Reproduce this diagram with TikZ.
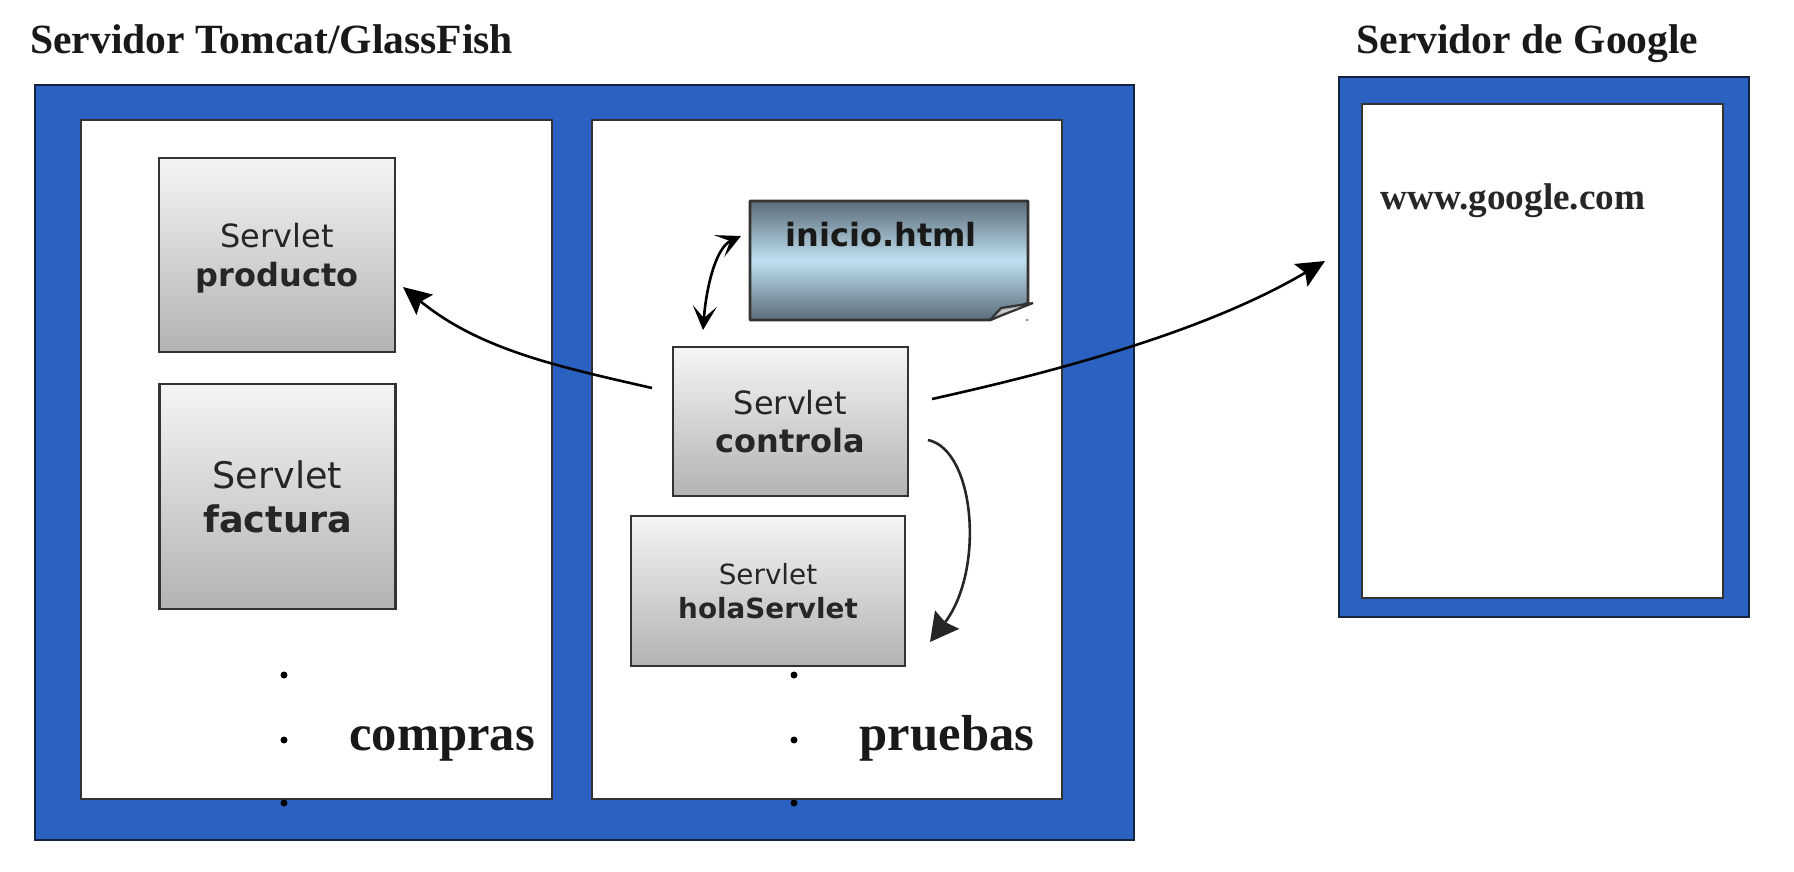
\documentclass[tikz,border=0pt]{standalone}
\usepackage{fontspec}
\setmainfont{Liberation Serif}
\newfontfamily\djv{DejaVu Sans}
\usetikzlibrary{arrows.meta}
\definecolor{panelblue}{HTML}{2B61C1}
\definecolor{edgedark}{HTML}{333333}
\definecolor{navyedge}{HTML}{14233F}
\definecolor{notedark}{HTML}{5B6B79}
\definecolor{notelight}{HTML}{BFE0F0}
\tikzset{
  outerpanel/.style={fill=panelblue,draw=navyedge,line width=1.2pt,inner sep=0pt,outer sep=0pt},
  innerpanel/.style={fill=white,draw=edgedark,line width=1.1pt,inner sep=0pt,outer sep=0pt},
  servlet/.style={top color=white!96!black,bottom color=black!30,draw=edgedark,line width=1.4pt,inner sep=0pt,outer sep=0pt,align=center,text=black!85},
  titletext/.style={font=\bfseries\fontsize{20.8}{24}\selectfont,text=black!90,inner sep=0pt,anchor=base west},
  bigtext/.style={font=\bfseries\fontsize{25.3}{30}\selectfont,text=black!90,inner sep=0pt,anchor=base},
  flow/.style={draw=black,line width=1.3pt,-{Stealth[length=14pt,width=13pt,inset=2.5pt]}},
  bothflow/.style={draw=black,line width=1.3pt,{Stealth[length=12pt,width=12pt,inset=6pt]}-{Stealth[length=12pt,width=12pt,inset=6pt]}},
  dotmark/.style={fill=black}
}
\begin{document}
\begin{tikzpicture}[x=0.5pt,y=-0.5pt]
\useasboundingbox (0,0) rectangle (1794,872);
\fill[white] (0,0) rectangle (1794,872);

\node[titletext] (t1) at (30,54) {Servidor Tomcat/GlassFish};
\node[titletext] (t2) at (1356,54) {Servidor de Google};

\node[outerpanel,minimum width=549.5pt,minimum height=377.5pt] (tomcat) at (584.5,462.5) {};
\node[innerpanel,minimum width=235.5pt,minimum height=339.5pt] (compras) at (316.5,459.5) {};
\node[innerpanel,minimum width=235pt,minimum height=339.5pt] (pruebas) at (827,459.5) {};
\node[outerpanel,minimum width=205pt,minimum height=270pt] (google) at (1544,347) {};
\node[innerpanel,minimum width=180.5pt,minimum height=247pt] (googlein) at (1542.5,351) {};

\node[servlet,minimum width=118pt,minimum height=97pt,font=\djv\fontsize{16}{19.5}\selectfont] (producto) at (277,255)
  {\rule{0pt}{15.6pt}Servlet\\\bfseries producto};
\node[servlet,minimum width=118pt,minimum height=112.5pt,font=\djv\fontsize{18.3}{22}\selectfont] (factura) at (277.5,496.5)
  {Servlet\\\bfseries factura};
\node[servlet,minimum width=117.5pt,minimum height=74.5pt,font=\djv\fontsize{16}{19}\selectfont] (controla) at (790.5,421.5)
  {Servlet\\\bfseries controla};
\node[servlet,minimum width=137pt,minimum height=75pt,font=\djv\fontsize{13.9}{17}\selectfont] (hola) at (768,591)
  {Servlet\\\bfseries holaServlet};

% inicio.html sticky note
\path[draw=edgedark,line width=1.4pt,line join=bevel,top color=notedark,bottom color=notedark,middle color=notelight]
  (750,201) -- (1028,201) -- (1028,303) -- (990,320) -- (750,320) -- cycle;
\draw[edgedark,line width=1.1pt,line join=bevel,fill=black!30] (990,320) -- (1001,308) -- (1033,303) -- cycle;
\fill[white!70!notedark] (998,314) -- (1004,310) -- (1018,308) -- cycle;
\fill[black!45] (1027,320) circle (1.5);
\node[inner sep=0pt,font=\djv\bfseries\fontsize{16}{20}\selectfont,text=black!90] (inicio) at (881,235) {inicio.html};

% dots
\foreach \yy in {675,740,803}{
  \fill[dotmark] (284,\yy) circle (3.5);
  \fill[dotmark] (794,\yy) circle (3.5);
}

\node[bigtext] (compras label) at (442,750) {compras};
\node[bigtext] (pruebas label) at (947,750) {pruebas};
\node[inner sep=0pt,anchor=base,font=\bfseries\fontsize{18.6}{22}\selectfont,text=black!85] (www) at (1513,209) {www.google.com};

% free ends of connectors
\coordinate (a1s) at (652,388);
\coordinate (a1e) at (403,287);
\coordinate (a2s) at (932,399);
\coordinate (a2e) at (1325,261);
\coordinate (a3s) at (928,440);
\coordinate (a3e) at (930,642);
\coordinate (a4s) at (741,236);
\coordinate (a4e) at (703,330);

\draw[flow] (a1s) .. controls (560,367) and (480,350) .. (a1e);
\draw[flow] (a2s) .. controls (1040,375) and (1200,335) .. (a2e);
\draw[draw=black!85,line width=1.3pt,-{Stealth[length=14pt,width=15pt,inset=1.5pt]}] (a3s) .. controls (975,450) and (985,570) .. (a3e);
\draw[bothflow] (a4s) .. controls (715,248) and (706,290) .. (a4e);
\end{tikzpicture}
\end{document}
